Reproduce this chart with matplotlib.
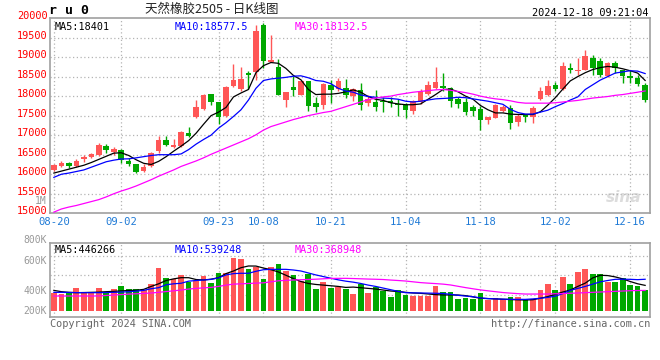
import numpy as np
import matplotlib
matplotlib.use("Agg")
import matplotlib.pyplot as plt
from matplotlib.transforms import offset_copy

# ---- data ----
opens = [16120, 16220, 16300, 16200, 16380, 16430, 16490, 16720, 16560, 16610,
         16350, 16250, 16090, 16200, 16590, 16880, 16710, 16730, 17060, 17470,
         17680, 18050, 17850, 17500, 18260, 18180, 18590, 18630, 19830, 18870,
         18750, 17910, 18230, 18040, 18380, 17820, 17770, 18290, 18190, 18210,
         18010, 18150, 17830, 17850, 17880, 17870, 17790, 17760, 17630, 17850,
         18050, 18210, 18260, 18210, 17920, 17850, 17720, 17680, 17400, 17450,
         17620, 17690, 17350, 17520, 17470, 17930, 18030, 18290, 18190, 18720,
         18640, 18680, 18980, 18900, 18510, 18840, 18660, 18520, 18460, 18290]
highs = [16270, 16330, 16320, 16400, 16480, 16540, 16800, 16780, 16700, 16640,
         16420, 16270, 16270, 16570, 16980, 16970, 16900, 17100, 17210, 17890,
         18060, 18060, 17860, 18250, 18830, 18740, 18650, 19830, 19870, 19570,
         18940, 18110, 18520, 18420, 18390, 17980, 18340, 18420, 18460, 18440,
         18210, 18330, 18020, 18150, 17970, 17990, 17930, 17820, 17910, 18180,
         18390, 18740, 18590, 18230, 17970, 17950, 17780, 17740, 17470, 17800,
         17760, 17760, 17550, 17530, 17740, 18230, 18410, 18360, 18870, 18850,
         18980, 19180, 19040, 18980, 18870, 18910, 18680, 18660, 18550, 18340]
lows = [16090, 16190, 16170, 16180, 16310, 16410, 16470, 16540, 16490, 16290,
        16200, 16030, 16060, 16180, 16550, 16720, 16670, 16700, 16950, 17440,
        17650, 17780, 17290, 17470, 18230, 18140, 18190, 18420, 18720, 18870,
        18030, 17720, 18000, 18040, 17610, 17590, 17680, 17830, 18120, 17950,
        17880, 17650, 17750, 17630, 17590, 17720, 17500, 17440, 17550, 17800,
        18020, 18190, 18120, 17730, 17690, 17520, 17490, 17140, 17290, 17440,
        17590, 17170, 17230, 17340, 17320, 17910, 18000, 18140, 18160, 18580,
        18530, 18660, 18530, 18480, 18490, 18590, 18340, 18340, 18270, 17850]
closes = [16240, 16300, 16200, 16330, 16450, 16510, 16750, 16610, 16650, 16360,
          16270, 16070, 16190, 16540, 16880, 16750, 16760, 17070, 16990, 17730,
          18030, 17860, 17460, 18230, 18410, 18440, 18550, 19660, 18890, 18930,
          18040, 18110, 18160, 18380, 17750, 17720, 18320, 18160, 18390, 18040,
          18180, 17760, 17920, 17730, 17840, 17830, 17780, 17650, 17870, 18120,
          18280, 18360, 18210, 17880, 17810, 17600, 17630, 17400, 17470, 17760,
          17720, 17310, 17480, 17460, 17700, 18130, 18260, 18180, 18760, 18680,
          18660, 19030, 18720, 18530, 18850, 18720, 18520, 18460, 18320, 17910]

ma5 = [16030, 16080, 16130, 16180, 16230, 16300, 16380, 16460, 16540, 16550,
       16480, 16370, 16280, 16250, 16330, 16450, 16590, 16720, 16860, 17050,
       17280, 17500, 17590, 17710, 17980, 18080, 18170, 18600, 18780, 18860,
       18840, 18710, 18530, 18420, 18170, 18040, 18050, 18050, 18070, 18110,
       18160, 18100, 17990, 17920, 17890, 17830, 17800, 17780, 17780, 17800,
       17920, 18040, 18170, 18180, 18110, 18000, 17920, 17760, 17650, 17570,
       17570, 17540, 17530, 17530, 17530, 17600, 17770, 17960, 18180, 18390,
       18500, 18600, 18680, 18730, 18760, 18740, 18700, 18650, 18590, 18401]
ma10 = [15920, 16000, 16030, 16070, 16110, 16180, 16250, 16320, 16360, 16390,
        16395, 16420, 16450, 16480, 16500, 16500, 16500, 16520, 16630, 16770,
        16890, 17000, 17180, 17320, 17480, 17650, 17900, 18200, 18400, 18440,
        18460, 18480, 18510, 18520, 18470, 18400, 18380, 18320, 18200, 18130,
        18100, 18030, 17990, 17970, 17950, 17940, 17920, 17870, 17850, 17870,
        17900, 17930, 17940, 17950, 17970, 17960, 17930, 17900, 17870, 17830,
        17790, 17660, 17580, 17540, 17540, 17590, 17640, 17730, 17810, 17900,
        17980, 18170, 18290, 18410, 18500, 18590, 18620, 18650, 18640, 18577.5]
ma30 = [15030, 15110, 15160, 15200, 15250, 15300, 15350, 15420, 15500, 15570,
        15630, 15700, 15780, 15860, 15950, 16030, 16110, 16200, 16270, 16340,
        16420, 16510, 16590, 16670, 16750, 16830, 16910, 17010, 17130, 17220,
        17280, 17340, 17400, 17450, 17500, 17540, 17580, 17610, 17670, 17730,
        17790, 17850, 17910, 17950, 17980, 18000, 18040, 18070, 18100, 18120,
        18140, 18160, 18170, 18150, 18120, 18090, 18050, 18000, 17960, 17930,
        17910, 17880, 17840, 17820, 17820, 17820, 17820, 17830, 17850, 17870,
        17890, 17920, 17950, 17970, 17990, 18020, 18040, 18070, 18100, 18132.5]

# volume in thousands of lots
volume = [335, 314, 335, 406, 324, 335, 406, 335, 390, 436,
          390, 390, 375, 467, 711, 558, 543, 604, 492, 507,
          594, 482, 635, 635, 869, 848, 696, 731, 543, 721,
          772, 670, 604, 513, 614, 390, 502, 406, 421, 390,
          314, 467, 330, 416, 360, 269, 375, 299, 289, 289,
          289, 441, 350, 340, 238, 253, 238, 335, 223, 253,
          233, 263, 263, 233, 233, 375, 467, 375, 574, 467,
          650, 696, 619, 619, 502, 502, 553, 452, 436, 375]
vma5 = [370, 350, 340, 335, 337, 340, 343, 350, 355, 362,
        368, 372, 385, 430, 470, 520, 545, 563, 563, 535,
        528, 540, 563, 625, 665, 715, 741, 740, 710, 685,
        650, 600, 550, 505, 475, 460, 450, 440, 430, 415,
        420, 410, 400, 390, 375, 360, 352, 340, 330, 325,
        315, 305, 300, 300, 299, 290, 270, 250, 245, 240,
        235, 230, 226, 223, 228, 250, 275, 310, 345, 375,
        430, 480, 560, 600, 595, 575, 545, 505, 470, 446]
vma10 = [340, 340, 338, 336, 335, 335, 335, 337, 340, 344,
         349, 358, 370, 395, 411, 455, 470, 478, 510, 520,
         528, 537, 560, 605, 625, 630, 630, 660, 684, 690,
         690, 690, 680, 665, 635, 605, 580, 555, 530, 510,
         495, 475, 450, 430, 405, 380, 355, 335, 332, 330,
         328, 326, 322, 310, 295, 283, 274, 255, 245, 240,
         236, 234, 233, 233, 240, 250, 263, 282, 320, 370,
         400, 430, 465, 500, 520, 538, 540, 538, 533, 539]
vma30 = [284, 284, 284, 284, 284, 284, 285, 292, 299, 306,
         313, 318, 323, 330, 340, 352, 363, 375, 390, 400,
         408, 415, 430, 450, 465, 470, 475, 480, 485, 500,
         516, 522, 528, 532, 536, 540, 546, 552, 553, 553,
         550, 546, 542, 539, 535, 527, 520, 512, 500, 488,
         480, 473, 465, 452, 432, 412, 394, 377, 363, 350,
         337, 328, 320, 314, 314, 314, 314, 318, 322, 326,
         330, 335, 340, 345, 350, 355, 360, 365, 368, 369]

tick_idx = [0, 9, 22, 28, 37, 47, 57, 67, 77]
tick_labels = ['08-20', '09-02', '09-23', '10-08', '10-21', '11-04', '11-18', '12-02', '12-16']
price_labels = [20000, 19500, 19000, 18500, 18000, 17500, 17000, 16500, 16000, 15500, 15000]
vol_labels = ['1M', '800K', '600K', '400K', '200K']

RED = '#ff5656'
GREEN = '#00a800'
MONO = 'DejaVu Sans Mono'
CJK = ['Noto Sans CJK SC', 'DejaVu Sans']
W, H = 660, 360

def fx(x):
    return x / W

def fy(y):
    return 1 - y / H

fig = plt.figure(figsize=(6.6, 3.6), dpi=100)
fig.patch.set_facecolor('white')

x = np.arange(len(closes))
o = np.array(opens); c = np.array(closes)
cols = [RED if cc >= oo else GREEN for oo, cc in zip(o, c)]

# ---------- price panel ----------
ax = fig.add_axes([fx(50.5), fy(213.3), (650 - 50.5) / W, (213.3 - 18) / H])
ax.set_xlim(-0.45, 79.65)
ax.set_ylim(15000, 20000)
ax.vlines(x, lows, highs, colors=cols, lw=1.0, zorder=3)
ax.bar(x, np.maximum(np.abs(c - o), 18), bottom=np.minimum(o, c), width=0.74,
       color=cols, linewidth=0, zorder=4)
ax.plot(x, ma5, color='black', lw=0.9, zorder=5)
ax.plot(x, ma10, color='#0000ff', lw=0.9, zorder=5)
ax.plot(x, ma30, color='#ff00ff', lw=0.9, zorder=5)

ax.set_yticks(price_labels[1:-1])
ax.set_yticklabels([])
ax.set_xticks(tick_idx, tick_labels)
ax.tick_params(axis='both', length=0)
ax.tick_params(axis='x', pad=2.5, labelsize=7.6, labelcolor='#1f7ad6')
for lab in ax.get_xticklabels():
    lab.set_family(MONO)
ax.grid(True, color='#b4b4b4', linestyle=(0, (1, 2)), lw=0.9)
for s in ax.spines.values():
    s.set_color('#a0a0a0')
    s.set_linewidth(1.2)

ytr = offset_copy(ax.get_yaxis_transform(), fig=fig, x=-3, y=2.0, units='dots')
for v in price_labels:
    ax.text(0, v, str(v), transform=ytr, ha='right', va='center', color='red',
            fontsize=7.4, family=MONO, clip_on=False)

ax.text(0.007, 0.982, 'MA5:18401', transform=ax.transAxes, ha='left', va='top',
        fontsize=7.3, family=MONO, color='black')
ax.text(0.207, 0.982, 'MA10:18577.5', transform=ax.transAxes, ha='left', va='top',
        fontsize=7.3, family=MONO, color='#0000ff')
ax.text(0.408, 0.982, 'MA30:18132.5', transform=ax.transAxes, ha='left', va='top',
        fontsize=7.3, family=MONO, color='#ff00ff')
ax.text(0.985, 0.04, 'sina', transform=ax.transAxes, ha='right', va='bottom',
        fontsize=11, color='#dcdcdc', style='italic', weight='bold', zorder=1)

# ---------- volume panel ----------
vb = 60
av = fig.add_axes([fx(50.5), fy(317.3), (650 - 50.5) / W, (317.3 - 243) / H])
av.set_xlim(-0.45, 79.65)
av.set_ylim(-40, 1091)
av.bar(x, np.array(volume) - vb, bottom=vb, width=0.76, color=cols, linewidth=0, zorder=3)
av.plot(x, vma5, color='black', lw=0.9, zorder=5)
av.plot(x, vma10, color='#0000ff', lw=0.9, zorder=5)
av.plot(x, vma30, color='#ff00ff', lw=0.9, zorder=5)
av.set_yticks([300, 600, 900])
av.set_yticklabels([])
av.set_xticks(tick_idx)
av.set_xticklabels([])
av.tick_params(axis='both', length=0)
av.grid(True, color='#b4b4b4', linestyle=(0, (1, 2)), lw=0.9)
for s in av.spines.values():
    s.set_color('#a0a0a0')
    s.set_linewidth(1.2)
av.text(0.007, 0.975, 'MA5:446266', transform=av.transAxes, ha='left', va='top',
        fontsize=7.3, family=MONO, color='black')
av.text(0.207, 0.975, 'MA10:539248', transform=av.transAxes, ha='left', va='top',
        fontsize=7.3, family=MONO, color='#0000ff')
av.text(0.408, 0.975, 'MA30:368948', transform=av.transAxes, ha='left', va='top',
        fontsize=7.3, family=MONO, color='#ff00ff')

for lab, yy in zip(vol_labels, [200.5, 240, 261, 291, 311]):
    fig.text(fx(47), fy(yy), lab, ha='right', va='center', fontsize=7.0,
             family=MONO, color='#999999')

# ---------- header / footer ----------
fig.text(fx(49), fy(11), 'r u 0', ha='left', va='center', fontsize=9.5,
         family=MONO, weight='bold', color='black')
fig.text(fx(212), fy(9), '天然橡胶2505 - 日K线图', ha='center', va='center',
         fontsize=9, family=CJK, color='#222222')
fig.text(fx(648), fy(12.5), '2024-12-18 09:21:04', ha='right', va='center',
         fontsize=7.4, family=MONO, color='black')
fig.text(fx(50), fy(324), 'Copyright 2024 SINA.COM', ha='left', va='center',
         fontsize=7.4, family=MONO, color='#666666')
fig.text(fx(650), fy(324), 'http://finance.sina.com.cn', ha='right', va='center',
         fontsize=7.4, family=MONO, color='#666666')

fig.savefig('out.png', dpi=100)
